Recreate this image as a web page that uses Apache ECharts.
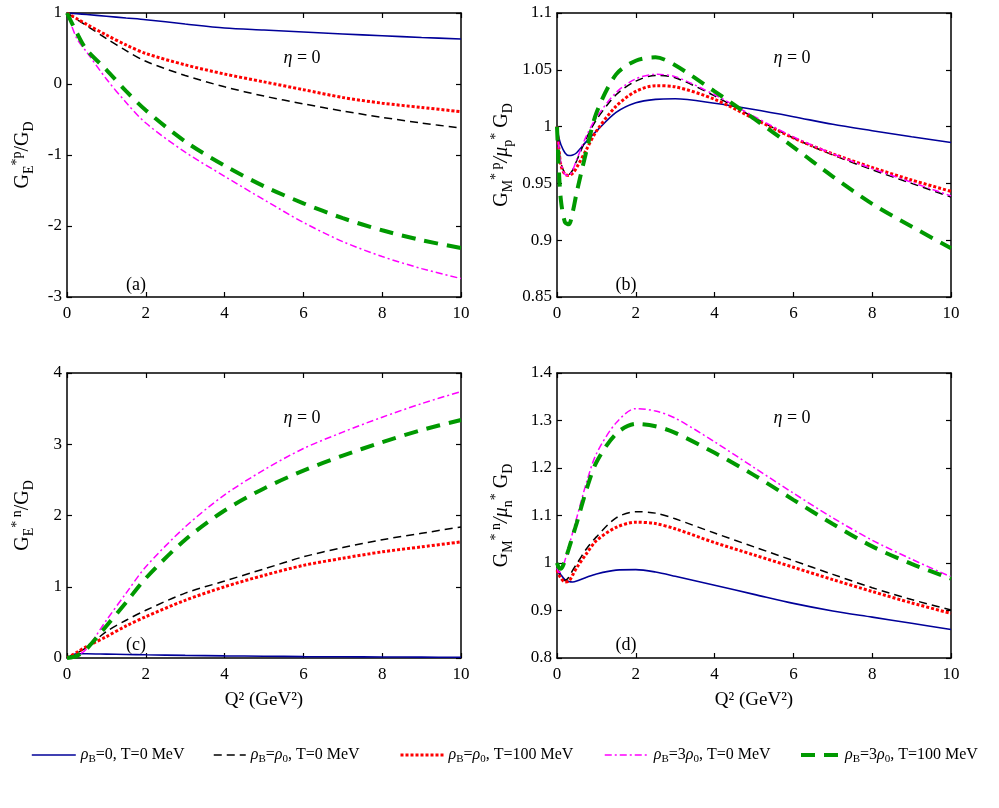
<!DOCTYPE html>
<html>
<head>
<meta charset="utf-8">
<script src="https://cdn.jsdelivr.net/npm/echarts@6/dist/echarts.min.js"></script>
<style>
  html, body { margin: 0; padding: 0; background: #fff; }
  #main { width: 999px; height: 808px; }
</style>
</head>
<body>
<div id="main"></div>
<script>
// Q^2 grid (GeV^2)
const qAC = [0, 0.25, 0.5, 1, 1.5, 2, 3, 4, 5, 6, 7, 8, 9, 10]
const qBD = [0, 0.05, 0.1, 0.2, 0.3, 0.4, 0.5, 0.75, 1, 1.5, 2, 2.5, 3, 4, 5, 6, 7, 8, 9, 10]

// (a) G_E^p / G_D
const blueA = [1, 0.99, 0.978, 0.955, 0.93, 0.906, 0.845, 0.789, 0.76, 0.732, 0.705, 0.68, 0.655, 0.634]
const blackA = [1, 0.91, 0.82, 0.64, 0.47, 0.32, 0.12, -0.04, -0.17, -0.28, -0.38, -0.47, -0.55, -0.62]
const redA = [1, 0.92, 0.84, 0.69, 0.55, 0.43, 0.27, 0.14, 0.03, -0.08, -0.19, -0.27, -0.33, -0.39]
const magentaA = [1, 0.64, 0.45, 0.07, -0.26, -0.55, -0.96, -1.3, -1.63, -1.95, -2.22, -2.43, -2.6, -2.74]
const greenA = [1, 0.72, 0.48, 0.2, -0.1, -0.37, -0.81, -1.15, -1.44, -1.68, -1.89, -2.06, -2.2, -2.31]

// (b) G_M^p / mu_p G_D
const blueB = [1.0, 0.99, 0.984, 0.977, 0.9745, 0.975, 0.977, 0.987, 0.996, 1.0125, 1.021, 1.024, 1.0245, 1.0205, 1.015, 1.0087, 1.002, 0.9964, 0.991, 0.986]
const blackB = [1.0, 0.98, 0.968, 0.959, 0.958, 0.962, 0.97, 0.99, 1.006, 1.028, 1.04, 1.045, 1.043, 1.027, 1.008, 0.99, 0.975, 0.962, 0.95, 0.938]
const redB = [1.0, 0.98, 0.966, 0.958, 0.957, 0.959, 0.964, 0.98, 0.996, 1.018, 1.031, 1.036, 1.035, 1.024, 1.007, 0.99, 0.976, 0.964, 0.953, 0.943]
const magentaB = [1.0, 0.98, 0.968, 0.958, 0.957, 0.962, 0.971, 0.992, 1.008, 1.03, 1.042, 1.046, 1.044, 1.028, 1.009, 0.991, 0.976, 0.963, 0.951, 0.939]
const greenB = [1.0, 0.96, 0.935, 0.916, 0.914, 0.925, 0.942, 0.979, 1.012, 1.046, 1.058, 1.061, 1.054, 1.031, 1.007, 0.982, 0.956, 0.932, 0.912, 0.893]

// (c) G_E^n / G_D
const blueC = [0, 0.06, 0.06, 0.055, 0.05, 0.045, 0.037, 0.03, 0.025, 0.02, 0.017, 0.015, 0.012, 0.01]
const blackC = [0, 0.07, 0.15, 0.37, 0.53, 0.67, 0.91, 1.08, 1.25, 1.42, 1.55, 1.66, 1.75, 1.84]
const redC = [0, 0.08, 0.16, 0.3, 0.45, 0.58, 0.81, 1.0, 1.16, 1.3, 1.4, 1.49, 1.56, 1.63]
const magentaC = [0, 0.03, 0.13, 0.53, 0.91, 1.28, 1.84, 2.29, 2.64, 2.94, 3.17, 3.38, 3.57, 3.74]
const greenC = [0, 0.03, 0.13, 0.45, 0.78, 1.12, 1.66, 2.07, 2.38, 2.63, 2.84, 3.03, 3.2, 3.34]

// (d) G_M^n / mu_n G_D
const blueD = [0.99, 0.982, 0.975, 0.965, 0.961, 0.96, 0.962, 0.97, 0.977, 0.985, 0.986, 0.981, 0.972, 0.953, 0.934, 0.915, 0.899, 0.886, 0.873, 0.86]
const blackD = [0.99, 0.978, 0.97, 0.963, 0.97, 0.985, 0.998, 1.03, 1.055, 1.095, 1.108, 1.105, 1.093, 1.063, 1.034, 1.005, 0.976, 0.948, 0.923, 0.901]
const redD = [0.985, 0.975, 0.968, 0.96, 0.962, 0.975, 0.99, 1.02, 1.047, 1.075, 1.086, 1.083, 1.072, 1.043, 1.017, 0.991, 0.965, 0.94, 0.916, 0.894]
const magentaD = [0.99, 0.98, 0.982, 1.005, 1.035, 1.065, 1.095, 1.17, 1.23, 1.295, 1.325, 1.32, 1.305, 1.255, 1.201, 1.147, 1.095, 1.048, 1.008, 0.971]
const greenD = [1.0, 0.99, 0.988, 1.005, 1.03, 1.057, 1.084, 1.155, 1.212, 1.272, 1.293, 1.288, 1.274, 1.232, 1.185, 1.133, 1.082, 1.035, 0.998, 0.967]

const xTicks = [0, 10, 2]
const yTicks = [[-3, 1, 1], [0.85, 1.1, 0.05], [0, 4, 1], [0.8, 1.4, 0.1]]

const FONT = 'Liberation Serif'
const names = ['s1', 's2', 's3', 's4', 's5']
const legendText = {
  s1: '{i|ρ}{s|B}=0, T=0 MeV',
  s2: '{i|ρ}{s|B}={i|ρ}{s|0}, T=0 MeV',
  s3: '{i|ρ}{s|B}={i|ρ}{s|0}, T=100 MeV',
  s4: '{i|ρ}{s|B}=3{i|ρ}{s|0}, T=0 MeV',
  s5: '{i|ρ}{s|B}=3{i|ρ}{s|0}, T=100 MeV'
}
const styles = {
  s1: { color: '#000099', width: 1.6, type: 'solid' },
  s2: { color: '#000000', width: 1.5, type: [8, 5] },
  s3: { color: '#ff0000', width: 3, type: [3, 2] },
  s4: { color: '#ff00ff', width: 1.5, type: [7, 3, 2, 3] },
  s5: { color: '#009900', width: 4, type: [14, 9] }
}

const grids = [
  { left: 67, top: 13, width: 394, height: 284 },
  { left: 557, top: 13, width: 394, height: 284 },
  { left: 67, top: 373, width: 394, height: 285 },
  { left: 557, top: 373, width: 394, height: 285 }
]

const rich = {
  b: { fontFamily: FONT, fontSize: 20, color: '#000' },
  sub: { fontFamily: FONT, fontSize: 14, color: '#000', padding: [12, 0, 0, 0] },
  sup: { fontFamily: FONT, fontSize: 14, color: '#000', padding: [0, 0, 12, 0] },
  g: { fontFamily: FONT, fontSize: 20, fontStyle: 'italic', color: '#000' }
}
const yNames = [
  '{b|G}{sub|E}{sup|*p}{b|/G}{sub|D}',
  '{b|G}{sub|M}{sup|* p}{g|/μ}{sub|p}{sup|*}{b| G}{sub|D}',
  '{b|G}{sub|E}{sup|* n}{b|/G}{sub|D}',
  '{b|G}{sub|M}{sup|* n}{g|/μ}{sub|n}{sup|*}{b| G}{sub|D}'
]
const yGaps = [31, 42, 31, 42]

let xAxis = []
let yAxis = []
grids.forEach((g, i) => {
  let [ymin, ymax, yint] = yTicks[i]
  let bottomName = i >= 2 ? 'Q² (GeV²)' : ''
  xAxis.push({
    gridIndex: i, type: 'value', min: xTicks[0], max: xTicks[1], interval: xTicks[2],
    name: bottomName, nameLocation: 'middle', nameGap: 33,
    nameTextStyle: { fontFamily: FONT, fontSize: 19, color: '#000' },
    axisLine: { onZero: false, lineStyle: { color: '#000', width: 1.5 } },
    axisTick: { inside: true, length: 5, lineStyle: { color: '#000', width: 1.2 } },
    axisLabel: { fontFamily: FONT, fontSize: 17, color: '#000', margin: 8 },
    splitLine: { show: false }
  })
  xAxis.push({
    gridIndex: i, type: 'value', position: 'top', min: xTicks[0], max: xTicks[1], interval: xTicks[2],
    axisLine: { onZero: false, lineStyle: { color: '#000', width: 1.5 } },
    axisTick: { inside: true, length: 5, lineStyle: { color: '#000', width: 1.2 } },
    axisLabel: { show: false },
    splitLine: { show: false }
  })
  yAxis.push({
    gridIndex: i, type: 'value', min: ymin, max: ymax, interval: yint,
    name: yNames[i], nameLocation: 'middle', nameGap: yGaps[i], nameRotate: 90,
    nameTextStyle: { rich: rich },
    axisLine: { onZero: false, lineStyle: { color: '#000', width: 1.5 } },
    axisTick: { inside: true, length: 5, lineStyle: { color: '#000', width: 1.2 } },
    axisLabel: { fontFamily: FONT, fontSize: 17, color: '#000', margin: 5 },
    splitLine: { show: false }
  })
  yAxis.push({
    gridIndex: i, type: 'value', position: 'right', min: ymin, max: ymax, interval: yint,
    axisLine: { onZero: false, lineStyle: { color: '#000', width: 1.5 } },
    axisTick: { inside: true, length: 5, lineStyle: { color: '#000', width: 1.2 } },
    axisLabel: { show: false },
    splitLine: { show: false }
  })
})

const panelData = [
  [qAC, [blueA, blackA, redA, magentaA, greenA]],
  [qBD, [blueB, blackB, redB, magentaB, greenB]],
  [qAC, [blueC, blackC, redC, magentaC, greenC]],
  [qBD, [blueD, blackD, redD, magentaD, greenD]]
]

let series = []
panelData.forEach(([xs, ys], g) => {
  ys.forEach((vals, k) => {
    let n = names[k]
    series.push({
      type: 'line', name: n, xAxisIndex: 2 * g, yAxisIndex: 2 * g,
      data: xs.map((x, j) => [x, vals[j]]),
      symbol: 'none', smooth: 0.3,
      color: styles[n].color,
      lineStyle: styles[n],
      silent: true, animation: false
    })
  })
})

const legLeft = [26, 208, 394, 599, 794]
const legW = [44, 32, 43, 44, 39]
const legend = names.map((n, k) => ({
  data: [n], left: legLeft[k], top: 742,
  itemWidth: legW[k], itemHeight: 10, itemGap: 4,
  itemStyle: { opacity: 0 },
  lineStyle: { color: styles[n].color, width: styles[n].width, type: styles[n].type },
  formatter: () => legendText[n],
  textStyle: {
    fontFamily: FONT, fontSize: 16, color: '#000',
    rich: {
      i: { fontFamily: FONT, fontSize: 16, fontStyle: 'italic', color: '#000' },
      s: { fontFamily: FONT, fontSize: 11, color: '#000', padding: [9, 0, 0, 0] }
    }
  }
}))

const annot = [
  ['{i|η} = 0', 302, 58], ['{i|η} = 0', 792, 58], ['{i|η} = 0', 302, 418], ['{i|η} = 0', 792, 418],
  ['(a)', 136, 285], ['(b)', 626, 285], ['(c)', 136, 645], ['(d)', 626, 645]
]
const graphic = annot.map(([t, x, y]) => ({
  type: 'text', x: x, y: y,
  style: {
    text: t, align: 'center', verticalAlign: 'middle',
    font: '18px ' + FONT, fill: '#000',
    rich: { i: { font: 'italic 18px ' + FONT, fill: '#000' } }
  }
}))

const chart = echarts.init(document.getElementById('main'))
chart.setOption({
  backgroundColor: '#fff',
  animation: false,
  grid: grids,
  xAxis: xAxis,
  yAxis: yAxis,
  legend: legend,
  graphic: graphic,
  series: series
})
</script>
</body>
</html>
